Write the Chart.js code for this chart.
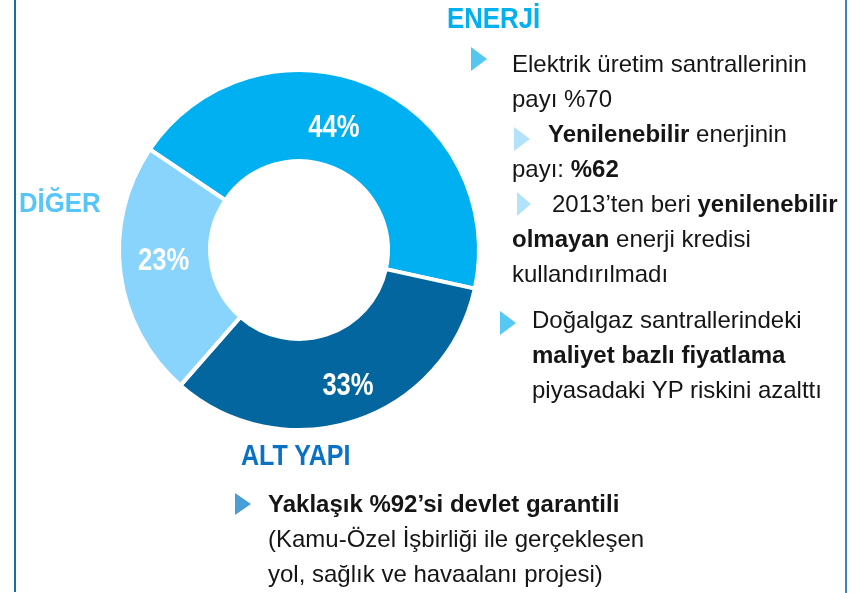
<!DOCTYPE html>
<html>
<head>
<meta charset="utf-8">
<script src="https://cdn.jsdelivr.net/npm/chart.js@4/dist/chart.umd.min.js"></script>
<style>
  html, body { margin:0; padding:0; background:#fff; }
  #wrap { position:relative; width:856px; height:593px; overflow:hidden; background:#fff;
          font-family:"Liberation Sans", Arial, sans-serif; }
  #chartBox { position:absolute; left:0; top:0; width:856px; height:593px; }
  .vline { position:absolute; top:0; height:593px; }
  .ttl { position:absolute; font-weight:bold; line-height:1; white-space:nowrap; transform-origin:left top; }
  .ln { position:absolute; font-size:24px; line-height:35px; color:#151515; white-space:nowrap; }
  .ln b { font-weight:bold; }
  .tri { position:absolute; width:0; height:0; border-style:solid; border-right-width:0; border-top-color:transparent; border-bottom-color:transparent; }
</style>
</head>
<body>
<div id="wrap">
  <div id="chartBox"><canvas id="c"></canvas></div>

  <div class="vline" style="left:14px;width:2px;background:#1570a8;height:592px;"></div>
  <div class="vline" style="left:845px;width:2px;background:#3a86bb;"></div>

  <div class="ttl" style="left:447px;top:3px;font-size:30px;color:#00b0f0;transform:scaleX(0.86);">ENERJİ</div>
  <div class="ttl" style="left:19px;top:189px;font-size:28px;color:#55c5fa;transform:scaleX(0.92);">DİĞER</div>
  <div class="ttl" style="left:241px;top:440px;font-size:30px;color:#0a72c4;transform:scaleX(0.835);">ALT YAPI</div>

  <div class="tri" style="left:471px;top:47px;border-left:16px solid #52c8f1;border-top-width:12px;border-bottom-width:12px;"></div>
  <div class="tri" style="left:514px;top:127px;border-left:16px solid #b3e3fa;border-top-width:12px;border-bottom-width:12px;"></div>
  <div class="tri" style="left:517px;top:192px;border-left:14px solid #b3e3fa;border-top-width:12px;border-bottom-width:12px;"></div>
  <div class="tri" style="left:500px;top:311px;border-left:16px solid #55c8f3;border-top-width:12px;border-bottom-width:12px;"></div>
  <div class="tri" style="left:235px;top:493px;border-left:16px solid #4a9ed8;border-top-width:11px;border-bottom-width:11px;"></div>

  <div class="ln" style="left:512px;top:46px;">Elektrik üretim santrallerinin</div>
  <div class="ln" style="left:512px;top:81px;">payı %70</div>
  <div class="ln" style="left:548px;top:116px;"><b>Yenilenebilir</b> enerjinin</div>
  <div class="ln" style="left:512px;top:151px;">payı: <b>%62</b></div>
  <div class="ln" style="left:552px;top:186px;">2013’ten beri <b>yenilenebilir</b></div>
  <div class="ln" style="left:512px;top:221px;"><b>olmayan</b> enerji kredisi</div>
  <div class="ln" style="left:512px;top:256px;">kullandırılmadı</div>

  <div class="ln" style="left:532px;top:302px;">Doğalgaz santrallerindeki</div>
  <div class="ln" style="left:532px;top:337px;"><b>maliyet bazlı fiyatlama</b></div>
  <div class="ln" style="left:532px;top:372px;">piyasadaki YP riskini azalttı</div>

  <div class="ln" style="left:268px;top:486px;"><b>Yaklaşık %92’si devlet garantili</b></div>
  <div class="ln" style="left:268px;top:521px;">(Kamu-Özel İşbirliği ile gerçekleşen</div>
  <div class="ln" style="left:268px;top:556px;">yol, sağlık ve havaalanı projesi)</div>
</div>

<script>
// ---- data ----
const categories = ['ENERJİ', 'ALT YAPI', 'DİĞER'];
const shares = [44, 33, 23];
const sliceColors = ['#00b0f0', '#03669f', '#88d4fc'];

// ---- percent labels drawn on the arcs ----
const pctLabels = {
  id: 'pctLabels',
  afterDatasetsDraw(chart, args, opts) {
    const ctx = chart.ctx;
    const meta = chart.getDatasetMeta(0);
    meta.data.forEach((arc, i) => {
      const p = arc.tooltipPosition();
      const n = (opts.nudge && opts.nudge[i]) || [0, 0];
      ctx.save();
      ctx.translate(p.x + n[0], p.y + n[1]);
      ctx.scale(opts.squeeze, 1);
      ctx.font = 'bold 32px "Liberation Sans", Arial, sans-serif';
      ctx.fillStyle = '#ffffff';
      ctx.textAlign = 'center';
      ctx.textBaseline = 'middle';
      ctx.fillText(chart.data.datasets[0].data[i] + '%', 0, 2);
      ctx.restore();
    });
  }
};

new Chart(document.getElementById('c'), {
  type: 'doughnut',
  data: {
    labels: categories,
    datasets: [{
      data: shares,
      backgroundColor: sliceColors,
      borderColor: '#ffffff',
      borderWidth: 4,
      hoverOffset: 0
    }]
  },
  options: {
    responsive: true,
    maintainAspectRatio: false,
    animation: false,
    rotation: 304,
    cutout: '49.4%',
    layout: { padding: { left: 117, right: 375, top: 68, bottom: 161 } },
    plugins: {
      legend: { display: false },
      tooltip: { enabled: false },
      pctLabels: { squeeze: 0.8, nudge: [[-18, 0], [7, 6], [-2, -8]] }
    },
    events: []
  },
  plugins: [pctLabels]
});
</script>
</body>
</html>
